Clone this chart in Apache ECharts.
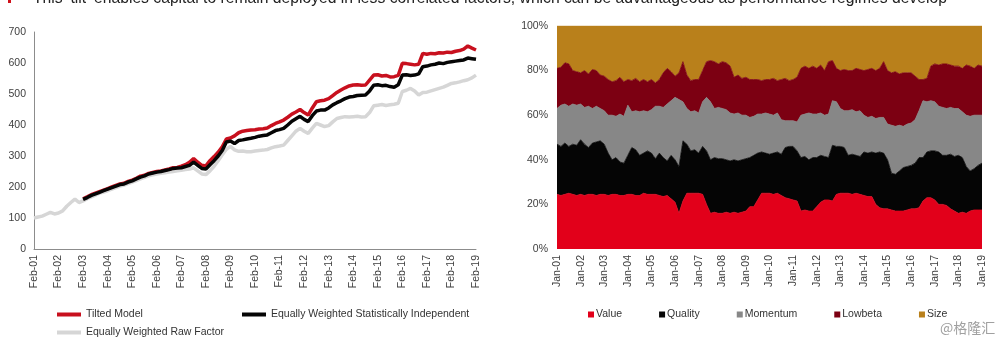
<!DOCTYPE html>
<html><head><meta charset="utf-8">
<script src="https://cdn.jsdelivr.net/npm/echarts@6/dist/echarts.min.js"></script>
<style>html,body{margin:0;padding:0;background:#fff}#c{width:1000px;height:342px}</style>
</head><body><div id="c"></div>
<script>
// ---------- categories / tick labels ----------
const monthsLeft = ['Feb','Apr','Jun','Aug','Oct','Dec'];
const monthsRight = ['Jan','Mar','May','Jul','Sep','Nov'];
const years = ['01','02','03','04','05','06','07','08','09','10','11','12','13','14','15','16','17','18','19'];

// ---------- left chart: cumulative performance (bi-monthly, Feb-01 .. Feb-19) ----------
const tiltedModel = [
  null,null,null,null,null,null,
  null,null,null,null,null,null,
  162,168,175,180,185,190,
  195,200,205,210,212,218,
  222,228,235,238,244,247,
  250,252,255,258,262,263,
  267,272,280,292,280,270,
  268,285,298,312,330,355,
  358,365,375,380,382,384,
  385,387,388,390,398,405,
  410,416,425,435,442,450,
  440,432,455,475,478,480,
  485,495,505,513,520,526,
  529,530,528,529,545,561,
  562,558,560,555,556,560,
  599,598,596,594,596,631,
  628,631,630,633,632,635,
  634,638,640,645,655,648,
  642
];
const ewStatIndependent = [
  null,null,null,null,null,null,
  null,null,null,null,null,null,
  160,166,173,178,183,188,
  193,198,203,208,210,216,
  220,226,232,236,242,245,
  248,250,253,256,260,261,
  262,266,270,280,270,260,
  258,272,285,300,318,345,
  348,340,350,352,355,357,
  360,364,366,368,375,382,
  385,389,400,412,420,428,
  418,411,430,445,448,448,
  455,465,472,478,485,490,
  492,495,496,497,510,528,
  530,527,528,524,522,530,
  561,562,560,561,565,588,
  590,594,596,600,598,602,
  604,606,608,610,616,614,
  612
];
const ewRawFactor = [
  100,103,106,112,118,113,
  116,123,138,150,161,150,
  155,162,168,174,180,184,
  188,193,198,203,206,211,
  216,221,226,231,236,239,
  242,244,246,248,250,252,
  254,256,258,262,252,242,
  240,252,267,285,304,322,
  331,320,315,316,314,314,
  316,318,319,321,326,330,
  332,335,350,365,380,389,
  380,373,390,405,400,395,
  398,410,421,424,427,426,
  427,428,426,427,440,462,
  464,466,463,465,467,470,
  508,512,518,510,497,505,
  506,510,514,518,522,528,
  534,536,539,543,546,552,
  561
];

// ---------- right chart: cumulative allocation boundaries in % (bi-monthly, Jan-01 .. Jan-19) ----------
const cumValue = [
  24.5,24,24.5,25,24.5,24,
  24.5,24,24.5,24.5,24,24.5,
  24.5,24,24.5,24.5,24,24,
  24.5,24.5,24,24,25,24.5,
  24.5,24.5,24,23.5,24,22.5,
  21,16,21.5,25,25,25,
  25,24.5,20,16,16.5,16,
  16,16.5,16,16.5,16,16.5,
  17,19,19,22,25,25,
  25,24.5,25,24,23,22.5,
  22,21.5,17,17.5,17,17,
  19,21,22,22,21.5,24.5,
  25,25,25,24.5,25,24.5,
  24,23.5,23.5,20,18.5,18,
  18,17.5,17,17,17,17.5,
  18,18,18.5,21.5,23,23,
  22,20,20,19.5,18,17,
  16,16.5,16,17,17.5,17.5,
  17.5
];
const cumQuality = [
  47,46,47.5,46,47,46.5,
  49,47,45.5,47.5,48,48.5,
  47,43,40,41,39,38.5,
  42,45.5,44.5,42,43,44,
  43,40.5,43,41,39.5,42,
  40,37,48.5,47,44,44.5,
  43,46,44,40,41,40.5,
  40.5,40,39.5,40,39.5,40,
  40.5,41,42,43,43.5,43,
  42.5,43,43.5,42.5,45.5,46,
  46,44,41,41.5,40,41,
  41,42,41.5,41,46.5,46,
  46,45.5,42,42.5,42,41.5,
  43.5,43,43.5,43,43.5,43,
  40,34,33.5,35,36.5,37,
  37.5,38.5,41,41,43.5,44,
  44,43.5,42,42,42.5,41.5,
  42,41,37,35,36,37.5,
  38.5
];
const cumMomentum = [
  63,64.5,65,64,65,64.5,
  65,63.5,64,63,64,63,
  62,60,60,59.5,60.5,59.5,
  64.5,61.5,62,61.5,62,61.5,
  62.5,64,64,63.5,65,66.5,
  68,67,66,63,61.5,62,
  61,66,68,66,63,63.5,
  63,62.5,61,60.5,61,60,
  60,59,59.5,60.5,60.5,61,
  60.5,60,61,58,57.5,57.5,
  57.5,57,60,60.5,61,60.5,
  60.5,61,60,60.5,66.5,66,
  63,62,62,62.5,61.5,62,
  60,59,59.5,58.5,59,59,
  56,55.5,55,55.5,55,56,
  56.5,58,62,66.5,66,66.5,
  66,64,63.5,63,63.5,63,
  63,61.5,60,59.5,60,60,
  60
];
const cumLowbeta = [
  81,81.5,83.5,83,80,79.5,
  79,80,78.5,80.5,80,78,
  77.5,76,75,75.5,77,75,
  76,75.5,76.5,75,76,75,
  76,74.5,76,79,81,79.5,
  77.5,79,84,78,75.5,76,
  76,80,84,84.5,84,83,
  84,83.5,82,77,78,76.5,
  77,76,76,76,75.5,76,
  76,76.5,75.5,76,76.5,75.5,
  76,77,81,82,81,82,
  81,82.5,80,84,84.5,81,
  80,80.5,80,80,81,80.5,
  80,80.5,81,80,81,84,
  80,79,79.5,78.5,79,79,
  79,77.5,76,76,76.5,82,
  83,82.5,83,83,82.5,82,
  82,81,82.5,82,81,82.5,
  82
];

// ---------- build categories ----------
function buildCats(months){
  const out=[];
  for(let y=0;y<years.length-1;y++) for(const m of months) out.push(m+'-'+years[y]);
  out.push(months[0]+'-'+years[years.length-1]);
  return out;
}
const catsLeft = buildCats(monthsLeft);
const catsRight = buildCats(monthsRight);

// shares per factor from the cumulative boundaries (stacked to 100%)
const diff = (a,b)=>a.map((v,i)=>+(v-(b?b[i]:0)).toFixed(2));
const shareValue = diff(cumValue);
const shareQuality = diff(cumQuality,cumValue);
const shareMomentum = diff(cumMomentum,cumQuality);
const shareLowbeta = diff(cumLowbeta,cumMomentum);
const shareSize = cumLowbeta.map(v=>+(100-v).toFixed(2));

const FONT='"Liberation Sans", Arial, sans-serif';
const LBL={color:'#404040',fontFamily:FONT,fontSize:10.5};

const chart=echarts.init(document.getElementById('c'),null,{renderer:'canvas'});
const leftLine=(name,data,color,z)=>({name,type:'line',data,xAxisIndex:0,yAxisIndex:0,showSymbol:false,symbol:'none',
  lineStyle:{color,width:3.5},itemStyle:{color},z,animation:false});
const area=(name,data,color)=>({name,type:'line',data,xAxisIndex:1,yAxisIndex:1,stack:'alloc',showSymbol:false,symbol:'none',
  lineStyle:{width:0.8,color},areaStyle:{color,opacity:1},itemStyle:{color},animation:false});

const legText={color:'#333',fontFamily:FONT,fontSize:10.5};
chart.setOption({
  animation:false,
  grid:[
    {left:34,top:32,width:442,height:217,containLabel:false},
    {left:557,top:26,width:425,height:223,containLabel:false}
  ],
  xAxis:[
    {type:'category',gridIndex:0,data:catsLeft,boundaryGap:false,
     axisLine:{show:true,lineStyle:{color:'#8c8c8c',width:1}},axisTick:{show:false},
     axisLabel:Object.assign({},LBL,{rotate:90,interval:5,margin:6}),splitLine:{show:false}},
    {type:'category',gridIndex:1,data:catsRight,boundaryGap:false,
     axisLine:{show:false},axisTick:{show:false},
     axisLabel:Object.assign({},LBL,{rotate:90,interval:5,margin:6}),splitLine:{show:false}}
  ],
  yAxis:[
    {type:'value',gridIndex:0,min:0,max:700,interval:100,
     axisLine:{show:true,lineStyle:{color:'#8c8c8c',width:1}},axisTick:{show:false},
     axisLabel:Object.assign({},LBL,{margin:8}),splitLine:{show:false}},
    {type:'value',gridIndex:1,min:0,max:100,interval:20,
     axisLine:{show:false},axisTick:{show:false},
     axisLabel:Object.assign({},LBL,{margin:9,formatter:'{value}%'}),splitLine:{show:false}}
  ],
  legend:[
    {data:['Tilted Model'],left:57,top:309,padding:0,icon:'rect',itemWidth:24,itemHeight:4,textStyle:legText},
    {data:['Equally Weighted Statistically Independent'],left:242,top:309,padding:0,icon:'rect',itemWidth:24,itemHeight:4,textStyle:legText},
    {data:['Equally Weighted Raw Factor'],left:57,top:327,padding:0,icon:'rect',itemWidth:24,itemHeight:4,textStyle:legText},
    {data:['Value','Quality','Momentum','Lowbeta','Size'],left:588,top:309,padding:0,icon:'rect',itemWidth:6,itemHeight:6,itemGap:37,
     textStyle:Object.assign({},legText,{padding:[0,0,0,-3]})}
  ],
  series:[
    leftLine('Equally Weighted Raw Factor',ewRawFactor,'#d6d6d6',2),
    leftLine('Tilted Model',tiltedModel,'#c8101e',3),
    leftLine('Equally Weighted Statistically Independent',ewStatIndependent,'#050505',4),
    area('Value',shareValue,'#e2001a'),
    area('Quality',shareQuality,'#050505'),
    area('Momentum',shareMomentum,'#878787'),
    area('Lowbeta',shareLowbeta,'#7c0012'),
    area('Size',shareSize,'#b9801b')
  ],
  graphic:[
    {type:'rect',shape:{x:8,y:-2,width:3,height:5},style:{fill:'#d0101a'}},
    {type:'text',x:33,y:-1.8,style:{text:"This \u2018tilt\u2019 enables capital to remain deployed in less correlated factors, which can be advantageous as performance regimes develop",
      font:'15.7px '+FONT,fill:'#222',verticalAlign:'middle',align:'left'}},
    {type:'text',x:940,y:328,style:{text:'@格隆汇',font:'14px "Noto Sans CJK SC", sans-serif',fill:'#a0a0a0',verticalAlign:'middle',align:'left'}}
  ]
});
</script></body></html>
